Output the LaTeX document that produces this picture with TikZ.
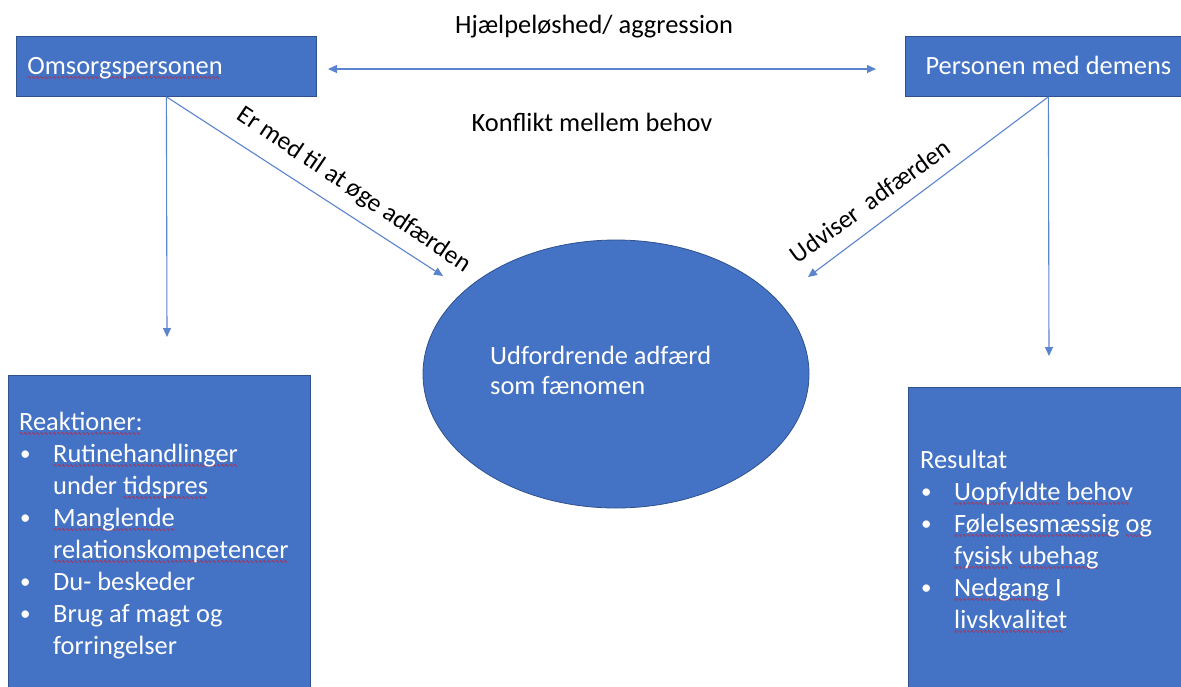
\documentclass[tikz,border=0pt]{standalone}
\usepackage{fontspec}
\setmainfont{Carlito}
\newfontfamily\wavefont{DejaVu Sans}
\usetikzlibrary{arrows.meta,shapes.geometric}
\definecolor{boxblue}{HTML}{4472C4}
\definecolor{boxedge}{HTML}{2F528F}
\definecolor{linkblue}{HTML}{5B84CF}
\newcommand\sq[1]{\setbox0\hbox{#1}\rlap{\raisebox{-5pt}[0pt][0pt]{\color{red}\wavefont\fontsize{5}{5}\selectfont\leaders\hbox{\char"223F}\hskip\wd0}}\box0\relax}
\newcommand\bl{\makebox[34pt][l]{\hspace{1pt}\raisebox{2pt}{\fontsize{21}{21}\selectfont\textbullet}}}
\newcommand\ind{\hspace*{34pt}}
\newcommand\nsp{\spaceskip=0pt\xspaceskip=0pt\relax}
\begin{document}
\begin{tikzpicture}[x=1pt,y=-1pt,
  box/.style={draw=boxedge,line width=0.8pt,fill=boxblue,rectangle,inner sep=0pt},
  link/.style={draw=linkblue,line width=1.1pt,-{Triangle[length=9pt,width=8pt]}},
  lbl/.style={font=\fontsize{26.4}{32}\selectfont,text=black,inner sep=0pt},
  rlbl/.style={font=\fontsize{25.5}{30}\selectfont,text=black,inner sep=0pt},
  boxtext/.style={font=\fontsize{26.4}{32}\selectfont,text=white,inner sep=0pt,align=left,anchor=base west}]
\useasboundingbox (0,0) rectangle (1181,686);
\fill[white] (0,0) rectangle (1181,686);

% top boxes
\node[box,minimum width=300pt,minimum height=60pt,anchor=north west,
      text width=278pt,inner xsep=11pt,align=left,text height=17pt,text depth=0pt,
      text=white,font=\fontsize{26.4}{32}\selectfont] (om) at (16,36) {\sq{Omsorgspersonen}};
\node[box,minimum width=286pt,minimum height=60pt,anchor=north west,
      text height=17pt,text depth=0pt,
      text=white,font=\fontsize{26.4}{32}\selectfont] (pm) at (905,36) {Personen med demens};

% bottom boxes
\node[box,minimum width=302pt,minimum height=330pt,anchor=north west] (rk) at (8,375) {};
\node[box,minimum width=290pt,minimum height=320pt,anchor=north west] (rs) at (908,387) {};

\node[boxtext,text width=290pt] (rkt) at (19,430) {\nsp\sq{Reaktioner:}\\
\bl\sq{Rutinehandlinger}\\
\ind under \sq{tidspres}\\
\bl\sq{Manglende}\\
\ind\sq{relationskompetencer}\\
\bl Du- beskeder\\
\bl Brug af magt og\\
\ind forringelser};

\node[boxtext,text width=255pt] (rst) at (920,468) {\nsp Resultat\\
\bl\sq{Uopfyldte} \sq{behov}\\
\bl\sq{Følelsesmæssig} \sq{og}\\
\ind\sq{fysisk} \sq{ubehag}\\
\bl\sq{Nedgang} I\\
\ind\sq{livskvalitet}};

% ellipse
\node[ellipse,fill=boxblue,draw=boxedge,line width=0.8pt,minimum width=386pt,minimum height=268pt,inner sep=0pt] (el) at (616,374) {};
\node[boxtext,font=\fontsize{26.4}{30}\selectfont,text width=260pt] (elt) at (490,364) {\nsp Udfordrende adfærd\\som fænomen};

% connectors
\coordinate (hL) at (328,69);
\coordinate (hR) at (876,69);
\draw[link,{Triangle[length=9pt,width=8pt]}-{Triangle[length=9pt,width=8pt]}] (hL) -- (hR);
\coordinate (omdown) at (167,337);
\draw[link] (om.south) -- (omdown);
\coordinate (eltipL) at (443,276);
\draw[link] (om.south) -- (eltipL);
\coordinate (pmdown) at (1049,356);
\draw[link] (pm.south) -- (pmdown);
\coordinate (eltipR) at (808,277);
\draw[link] (pm.south) -- (eltipR);

% labels
\node[lbl,anchor=base] (hj) at (594,33) {Hjælpeløshed/ aggression};
\node[lbl,anchor=base] (kf) at (592,131) {Konflikt mellem behov};
\node[rlbl,rotate=-34] (er) at (354,190) {Er med til at øge adfærden};
\node[rlbl,rotate=36] (ud) at (870,201) {Udviser\ \ adfærden};
\end{tikzpicture}
\end{document}
